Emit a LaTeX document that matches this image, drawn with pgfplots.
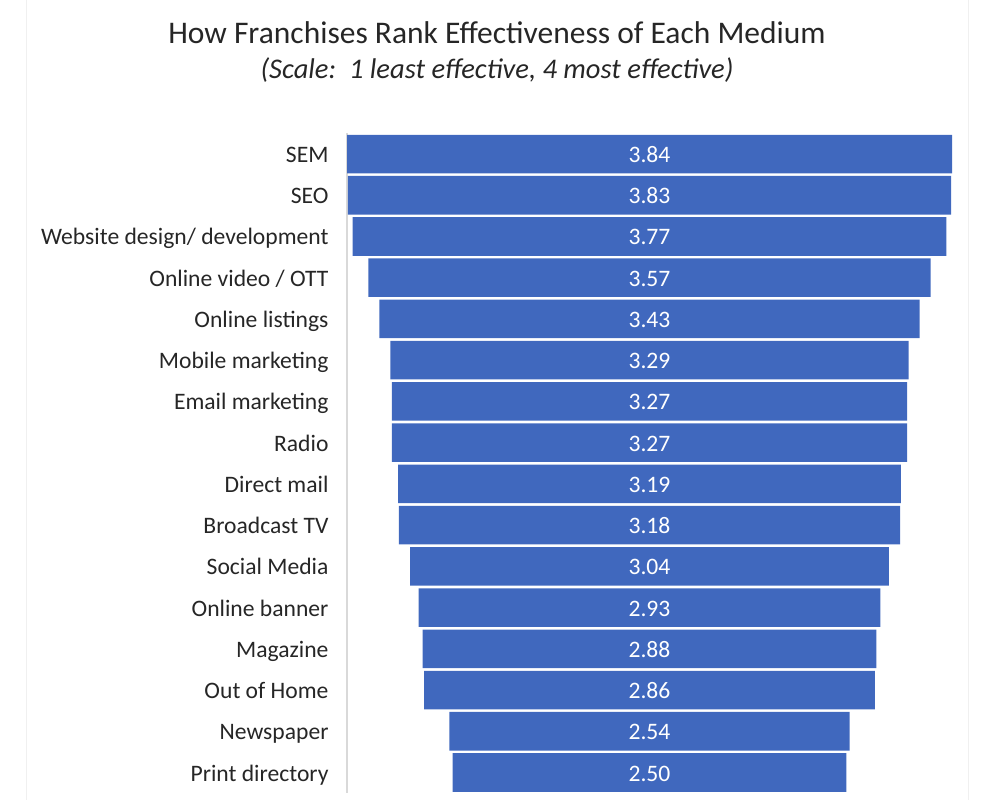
\documentclass[border=0pt]{standalone}
\usepackage{pgfplots}
\pgfplotsset{compat=1.18}
\usepackage{pgfplotstable}
\usepackage{fontspec}
\setmainfont{Carlito}
\definecolor{barblue}{RGB}{64,104,190}
\definecolor{txt}{RGB}{38,38,38}
\definecolor{axgray}{RGB}{217,217,217}
\pgfplotstableread{
idx off val lab
0 0.000 3.84 3.84
1 0.005 3.83 3.83
2 0.035 3.77 3.77
3 0.135 3.57 3.57
4 0.205 3.43 3.43
5 0.275 3.29 3.29
6 0.285 3.27 3.27
7 0.285 3.27 3.27
8 0.325 3.19 3.19
9 0.330 3.18 3.18
10 0.400 3.04 3.04
11 0.455 2.93 2.93
12 0.480 2.88 2.88
13 0.490 2.86 2.86
14 0.650 2.54 2.54
15 0.670 2.50 2.50
}\datatable
\begin{document}
\begin{tikzpicture}
\path[use as bounding box] (0,0) rectangle (994bp,-800bp);
\draw[black!6, line width=1bp] (26bp,0) -- (26bp,-800bp);
\draw[black!6, line width=1bp] (968bp,0) -- (968bp,-800bp);
\node[text=txt, font=\fontsize{31.5bp}{36bp}\selectfont] at (497bp,-33bp) {How Franchises Rank Effectiveness of Each Medium};
\node[text=txt, font=\fontsize{28.5bp}{33bp}\selectfont\itshape] at (497bp,-70bp) {(Scale:\ \ 1 least effective, 4 most effective)};
\begin{axis}[
  at={(347bp,-133.4bp)}, anchor=north west,
  scale only axis, width=605bp, height=659.7bp,
  xmin=0, xmax=3.84, ymin=-0.5, ymax=15.5, y dir=reverse,
  xbar stacked, bar width=0.935,
  axis x line=none,
  axis y line*=left,
  y axis line style={axgray, line width=1.5bp, -},
  major tick length=0pt,
  xtick=\empty,
  ytick={0,...,15},
  yticklabels={SEM,SEO,Website design/ development,Online video / OTT,Online listings,Mobile marketing,Email marketing,Radio,Direct mail,Broadcast TV,Social Media,Online banner,Magazine,Out of Home,Newspaper,Print directory},
  yticklabel style={text=txt, font=\fontsize{23.6bp}{28bp}\selectfont, anchor=east, xshift=-15bp, text height=20bp, text depth=3bp},
  clip=false,
]
\addplot[draw=none, fill=none] table[x=off, y=idx] {\datatable};
\addplot[fill=barblue, draw=none,
  nodes near coords, point meta=explicit symbolic,
  every node near coord/.append style={anchor=center, text=white, font=\fontsize{23.6bp}{28bp}\selectfont, text height=20bp, text depth=3bp},
] table[x=val, y=idx, meta=lab] {\datatable};
\end{axis}
\end{tikzpicture}
\end{document}
